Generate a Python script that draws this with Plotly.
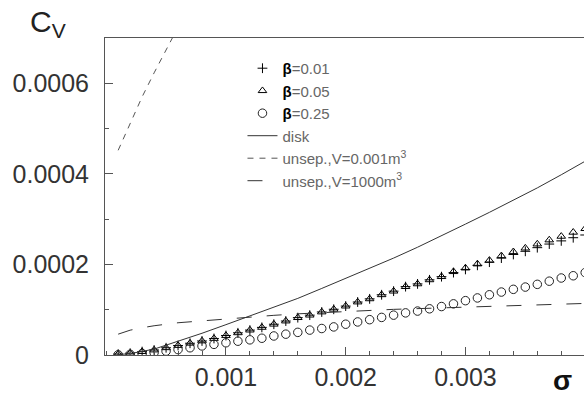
import plotly.graph_objects as go

# ---- data (sigma in m, C_V values in units of 1e-6) ----
sigma_pts = [0.0001, 0.0002, 0.0003, 0.0004, 0.0005, 0.0006, 0.0007, 0.0008, 0.0009, 0.0010,
             0.0011, 0.0012, 0.0013, 0.0014, 0.0015, 0.0016, 0.0017, 0.0018, 0.0019, 0.0020,
             0.0021, 0.0022, 0.0023, 0.0024, 0.0025, 0.0026, 0.0027, 0.0028, 0.0029, 0.0030,
             0.0031, 0.0032, 0.0033, 0.0034, 0.0035, 0.0036, 0.0037, 0.0038, 0.0039, 0.0040]

beta001 = [2, 4, 7.5, 11, 16, 21, 26, 31, 36.5, 43,
           49, 55, 61, 68, 75, 82.5, 88, 95, 101, 108,
           117, 124, 133, 141, 151, 157, 166, 173, 182, 189,
           198, 205, 214, 222, 229, 237, 245, 252, 259, 265]

beta005 = [2, 4, 7.5, 11, 16, 21, 26, 31, 36.5, 43,
           49, 55, 61, 68, 75, 82.5, 88, 95, 101, 108,
           117, 124, 133, 141, 151, 157, 166, 173, 184, 192,
           201, 209, 219, 228, 236, 245, 254, 262, 271, 279]

beta025 = [0.5, 1.5, 3, 5.5, 8.5, 12, 16, 20, 23.5, 27,
           30.5, 33.5, 37, 42, 46, 50, 55, 58.5, 62, 68,
           73, 78, 83, 88, 93, 97, 102, 107, 113, 120,
           126, 133, 139, 145, 150, 156, 163, 170, 175, 182]

disk_x = [0.0001, 0.0002, 0.0004, 0.0006, 0.0008, 0.0010, 0.0012, 0.0014, 0.0016, 0.0018, 0.0020,
          0.0022, 0.0024, 0.0026, 0.0028, 0.0030, 0.0032, 0.0034, 0.0036, 0.0038, 0.0040]
disk_y = [1, 3, 13, 30, 48, 67, 86, 105, 125, 147, 169,
          192, 214, 238, 263, 289, 315, 342, 369, 398, 428]

small_x = [0.0001, 0.0002, 0.0003, 0.0004, 0.0005, 0.0006]
small_y = [452, 512, 570, 623, 674, 724]

large_x = [0.0001, 0.0002, 0.0003, 0.0004, 0.0006, 0.0008, 0.0010, 0.0012, 0.0014, 0.0016,
           0.0020, 0.0024, 0.0028, 0.0032, 0.0036, 0.0040]
large_y = [46, 54.8, 60.2, 64.6, 71.2, 75.6, 78.9, 83.2, 87.6, 90.9,
           96.4, 100.8, 104, 107.3, 110.6, 113.9]

x_ticks = [0.001, 0.002, 0.003]
x_tick_labels = ["0.001", "0.002", "0.003"]
y_ticks = [0, 0.0002, 0.0004, 0.0006]
y_tick_labels = ["0", "0.0002", "0.0004", "0.0006"]

legend_names = ["<span style='color:#000'><b>β</b></span>=0.01",
                "<span style='color:#000'><b>β</b></span>=0.05",
                "<span style='color:#000'><b>β</b></span>=0.25",
                "disk",
                "unsep.,V=0.001m<sup>3</sup>",
                "unsep.,V=1000m<sup>3</sup>"]

E = 1e-6
FONT = "Liberation Sans, Arial, sans-serif"

fig = go.Figure()
fig.add_trace(go.Scatter(x=sigma_pts, y=[v * E for v in beta001], mode="markers",
                         name=legend_names[0],
                         marker=dict(symbol="cross-thin-open", size=7, color="black",
                                     line=dict(color="black", width=1))))
fig.add_trace(go.Scatter(x=sigma_pts, y=[v * E for v in beta005], mode="markers",
                         name=legend_names[1],
                         marker=dict(symbol="triangle-up-open", size=7.5, color="black",
                                     line=dict(color="black", width=1))))
fig.add_trace(go.Scatter(x=sigma_pts, y=[v * E for v in beta025], mode="markers",
                         name=legend_names[2],
                         marker=dict(symbol="circle-open", size=8.5, color="#222",
                                     line=dict(color="#222", width=1))))
fig.add_trace(go.Scatter(x=disk_x, y=[v * E for v in disk_y], mode="lines",
                         name=legend_names[3], line=dict(color="#333", width=1)))
fig.add_trace(go.Scatter(x=small_x, y=[v * E for v in small_y], mode="lines",
                         name=legend_names[4], line=dict(color="#555", width=1, dash="6px,6px")))
fig.add_trace(go.Scatter(x=large_x, y=[v * E for v in large_y], mode="lines",
                         name=legend_names[5], line=dict(color="#333", width=1, dash="15px,15px")))

axis_common = dict(showgrid=False, zeroline=False, showline=True, linecolor="#555", linewidth=1,
                   ticks="inside", tickcolor="#555", ticklen=8, tickwidth=1,
                   tickfont=dict(family=FONT, size=25, color="#333"))

fig.update_xaxes(range=[-0.00001, 0.00399], tickvals=x_ticks, ticktext=x_tick_labels,
                 mirror=True, ticklabelstandoff=0,
                 minor=dict(dtick=0.0002, tick0=0, ticks="inside", ticklen=4, tickcolor="#555"),
                 **axis_common)
fig.update_yaxes(range=[0, 0.0007], tickvals=y_ticks, ticktext=y_tick_labels,
                 ticklabelstandoff=10,
                 minor=dict(dtick=0.0001, tick0=0, ticks="inside", ticklen=4, tickcolor="#555"),
                 **axis_common)

fig.add_annotation(text="C<sub>V</sub>", xref="paper", yref="paper", x=-0.119, y=0.981,
                   xanchor="center", yanchor="bottom", showarrow=False,
                   font=dict(family=FONT, size=30, color="#222"))
fig.add_annotation(text="<b>σ</b>", xref="paper", yref="paper", x=0.955, y=-0.025,
                   xanchor="center", yanchor="top", showarrow=False,
                   font=dict(family=FONT, size=28, color="#111"))

fig.update_layout(
    width=584, height=396,
    margin=dict(l=105, r=0, t=38, b=41),
    paper_bgcolor="white", plot_bgcolor="white",
    showlegend=True,
    legend=dict(x=0.287, y=0.956, xanchor="left", yanchor="top",
                bgcolor="rgba(0,0,0,0)", borderwidth=0, itemwidth=30,
                font=dict(family=FONT, size=15, color="#666")),
)

fig.write_html("out.html", config={"displayModeBar": False},
               post_script="document.body.style.margin='0';document.body.style.padding='0';")
